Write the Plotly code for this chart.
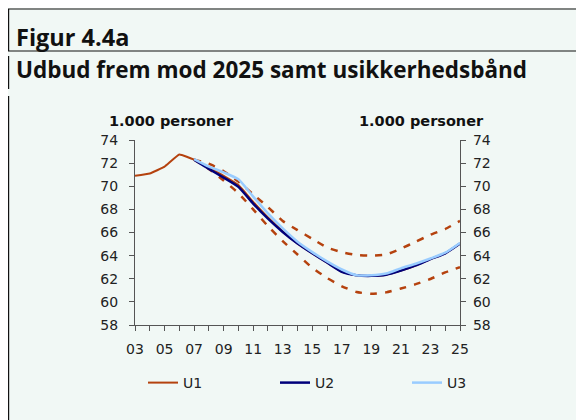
import plotly.graph_objects as go

# årstal
years_hist = [2003, 2004, 2005, 2006, 2007]
years_fc = list(range(2007, 2026))

# 1.000 personer
u1_hist = [70.9, 71.1, 71.7, 72.75, 72.3]
u1_fc = [72.3, 71.6, 70.9, 70.1, 68.65, 67.3, 66.1, 65.05, 64.2, 63.4, 62.6, 62.3,
         62.25, 62.35, 62.7, 63.15, 63.7, 64.2, 65.05]
u2 = [72.3, 71.5, 70.75, 69.95, 68.5, 67.2, 66.05, 65.05, 64.2, 63.4, 62.6, 62.3,
      62.25, 62.35, 62.7, 63.15, 63.7, 64.2, 65.05]
u3 = [72.35, 71.7, 71.2, 70.6, 69.1, 67.65, 66.35, 65.2, 64.3, 63.5, 62.8, 62.3,
      62.3, 62.45, 62.9, 63.3, 63.75, 64.25, 65.1]
upper = [72.3, 71.95, 71.3, 70.4, 69.3, 68.2, 67.0, 66.2, 65.45, 64.7, 64.3, 64.05,
         64.0, 64.1, 64.6, 65.2, 65.8, 66.3, 67.0]
lower = [72.3, 71.5, 70.5, 69.4, 68.0, 66.55, 65.25, 64.1, 62.95, 62.07, 61.35, 60.85,
         60.7, 60.82, 61.15, 61.53, 61.98, 62.55, 63.0]

xticks = list(range(2003, 2026))
xlabels = [str(y)[2:] if y % 2 == 1 else "" for y in xticks]

RED = "#b5420e"
NAVY = "#00007a"
LIGHT = "#99ccff"
BG = "#f1f8f5"
AX = "#555555"
FONT = "DejaVu Sans"

# plotområde i pixel (figurkoordinater)
L, T, W, H = 127, 132, 325, 185
px = lambda fx: (fx - L) / W
py = lambda fy: 1 + (T - fy) / H

fig = go.Figure()
for band in (upper, lower):
    fig.add_trace(go.Scatter(x=years_fc, y=band, mode="lines", showlegend=False,
                             line=dict(color=RED, width=2.5, dash="7px,8px", shape="spline", smoothing=0.5),
                             hoverinfo="skip"))
fig.add_trace(go.Scatter(x=years_hist + years_fc[1:], y=u1_hist + u1_fc[1:], mode="lines", name="U1",
                         legend="legend",
                         line=dict(color=RED, width=2, shape="spline", smoothing=0.3)))
fig.add_trace(go.Scatter(x=years_fc, y=u2, mode="lines", name="U2", legend="legend2",
                         line=dict(color=NAVY, width=2.5, shape="spline", smoothing=0.5)))
fig.add_trace(go.Scatter(x=years_fc, y=u3, mode="lines", name="U3", legend="legend3",
                         line=dict(color=LIGHT, width=2.5, shape="spline", smoothing=0.5)))
# usynlig kopi til højre akse
fig.add_trace(go.Scatter(x=years_fc, y=u2, yaxis="y2", mode="lines", showlegend=False,
                         line=dict(color="rgba(0,0,0,0)", width=0), hoverinfo="skip"))

axis_common = dict(range=[58, 74], dtick=2, ticks="outside", ticklen=5, tickcolor=AX,
                   showline=True, linecolor=AX, linewidth=1.2, showgrid=False, zeroline=False,
                   tickfont=dict(family=FONT, size=14, color="#222222"))

legend_common = dict(orientation="h", xanchor="left", y=py(375), yanchor="middle",
                     bgcolor="rgba(0,0,0,0)", font=dict(family=FONT, size=14, color="#222222"))

fig.update_layout(
    width=584, height=420,
    paper_bgcolor=BG, plot_bgcolor=BG,
    margin=dict(l=L, r=584 - L - W, t=T, b=420 - T - H),
    font=dict(family=FONT, color="#222222"),
    xaxis=dict(range=[2003, 2025], tickvals=xticks, ticktext=xlabels, ticks="outside",
               ticklen=5, tickcolor=AX, showline=True, linecolor=AX, linewidth=1.2,
               showgrid=False, zeroline=False, ticklabelstandoff=6,
               tickfont=dict(family=FONT, size=14, color="#222222")),
    yaxis=dict(**axis_common, ticklabelstandoff=8),
    yaxis2=dict(**axis_common, overlaying="y", side="right", ticklabelstandoff=4),
    legend=dict(**legend_common, x=px(135)),
    legend2=dict(**legend_common, x=px(267)),
    legend3=dict(**legend_common, x=px(399)),
    showlegend=True,
)

# overskrifter
fig.add_annotation(text="<b>Figur 4.4a</b>", xref="paper", yref="paper", x=px(6), y=py(28.5),
                   xanchor="left", yanchor="middle", showarrow=False,
                   font=dict(family="Open Sans", size=23.5, color="#111111"))
fig.add_annotation(text="<b>Udbud frem mod 2025 samt usikkerhedsbånd</b>", xref="paper", yref="paper",
                   x=px(6), y=py(61.5), xanchor="left", yanchor="middle", showarrow=False,
                   font=dict(family="Open Sans", size=22.5, color="#111111"))
for xpos in (163, 413):
    fig.add_annotation(text="<b>1.000 personer</b>", xref="paper", yref="paper",
                       x=px(xpos), y=py(113), xanchor="center", yanchor="middle",
                       showarrow=False, font=dict(family=FONT, size=14.5, color="#111111"))

# ramme
for yy in (1, 43):
    fig.add_shape(type="line", xref="paper", yref="paper", x0=px(0), x1=px(584),
                  y0=py(yy), y1=py(yy), line=dict(color="#111111", width=1.2))
for ya, yb in ((1, 43), (48, 81), (88, 420)):
    fig.add_shape(type="line", xref="paper", yref="paper", x0=px(0.6), x1=px(0.6),
                  y0=py(ya), y1=py(yb), line=dict(color="#111111", width=1.2))

fig.write_html("out.html")
